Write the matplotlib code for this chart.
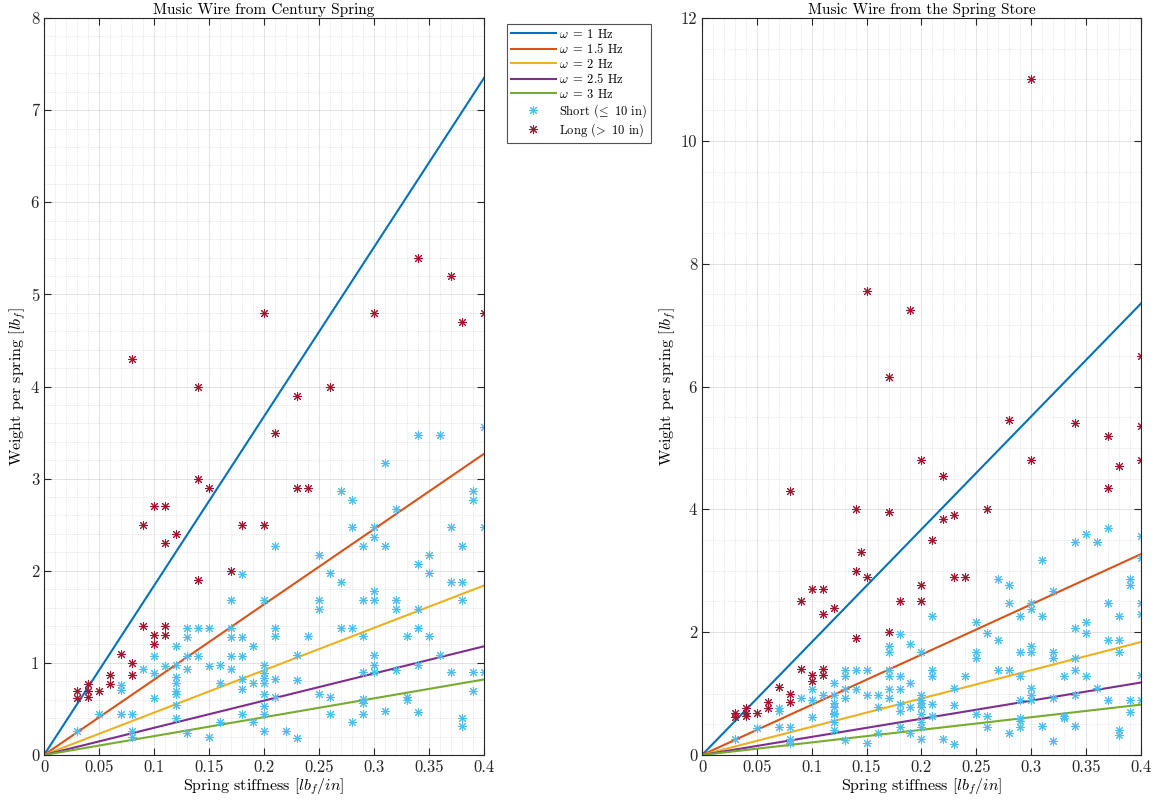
import matplotlib
matplotlib.use('Agg')
import matplotlib.pyplot as plt
from matplotlib.ticker import MultipleLocator, FuncFormatter

plt.rcParams['font.family'] = ['cmr10', 'DejaVu Serif']
plt.rcParams['mathtext.fontset'] = 'cm'
plt.rcParams['axes.formatter.use_mathtext'] = True
plt.rcParams['axes.unicode_minus'] = False

# natural frequency lines, weight at k = 0.4 lbf/in
freqs = [1, 1.5, 2, 2.5, 3]
freq_labels = ['1', '1.5', '2', '2.5', '3']
k_max = 0.4
line_end = [7.35, 3.27, 1.84, 1.18, 0.82]
line_colors = ['#0072BD', '#D95319', '#EDB120', '#7E2F8E', '#77AC30']

# Century Spring: long springs (> 10 in)
century_long_k = [0.03, 0.03, 0.04, 0.04, 0.04, 0.05, 0.06, 0.06, 0.07, 0.08,
                  0.08, 0.08, 0.09, 0.09, 0.1, 0.1, 0.1, 0.11, 0.11, 0.11,
                  0.11, 0.12, 0.14, 0.14, 0.14, 0.15, 0.17, 0.18, 0.2, 0.2,
                  0.21, 0.23, 0.23, 0.24, 0.26, 0.3, 0.34, 0.37, 0.38, 0.4]
century_long_w = [0.62, 0.69, 0.63, 0.69, 0.77, 0.69, 0.77, 0.87, 1.1, 0.87,
                  1.0, 4.3, 1.4, 2.5, 1.2, 1.3, 2.7, 1.3, 1.4, 2.3,
                  2.7, 2.4, 1.9, 3.0, 4.0, 2.9, 2.0, 2.5, 2.5, 4.8,
                  3.5, 2.9, 3.9, 2.9, 4.0, 4.8, 5.4, 5.2, 4.7, 4.8]

# Century Spring: short springs (<= 10 in)
century_short_k = [0.03, 0.05, 0.07, 0.07, 0.07, 0.08, 0.08, 0.08, 0.09,
                   0.1, 0.1, 0.1, 0.11,
                   0.12, 0.12, 0.12, 0.12, 0.12, 0.12, 0.12, 0.12,
                   0.13, 0.13, 0.13, 0.13, 0.13, 0.14, 0.14, 0.15, 0.15, 0.15,
                   0.16, 0.16, 0.16, 0.17, 0.17, 0.17, 0.17, 0.17,
                   0.18, 0.18, 0.18, 0.18, 0.18, 0.18, 0.19, 0.19, 0.19,
                   0.2, 0.2, 0.2, 0.2, 0.2, 0.2, 0.2, 0.2, 0.2,
                   0.21, 0.21, 0.21, 0.21, 0.21, 0.22, 0.23, 0.23, 0.23, 0.24,
                   0.25, 0.25, 0.25, 0.25, 0.26, 0.26, 0.26, 0.27, 0.27, 0.27,
                   0.28, 0.28, 0.28, 0.28,
                   0.29, 0.29, 0.29, 0.29, 0.29, 0.29, 0.29,
                   0.3, 0.3, 0.3, 0.3, 0.3, 0.3, 0.3,
                   0.31, 0.31, 0.31, 0.32, 0.32, 0.32, 0.32, 0.33, 0.33, 0.33,
                   0.34, 0.34, 0.34, 0.34, 0.34, 0.34, 0.35, 0.35, 0.35,
                   0.36, 0.36, 0.37, 0.37, 0.37,
                   0.38, 0.38, 0.38, 0.38, 0.38, 0.39, 0.39, 0.39, 0.39,
                   0.4, 0.4, 0.4]
century_short_w = [0.26, 0.44, 0.76, 0.71, 0.45, 0.45, 0.26, 0.2, 0.93,
                   1.08, 0.89, 0.62, 0.97,
                   1.18, 0.98, 0.85, 0.78, 0.69, 0.66, 0.54, 0.4,
                   1.38, 1.28, 1.08, 0.93, 0.24, 1.38, 1.08, 1.38, 0.97, 0.2,
                   0.98, 0.78, 0.36, 1.68, 1.38, 1.28, 1.08, 0.93,
                   1.97, 1.28, 1.08, 0.83, 0.72, 0.45, 1.18, 0.78, 0.36,
                   1.68, 0.98, 0.89, 0.84, 0.78, 0.66, 0.53, 0.45, 0.26,
                   2.27, 1.38, 1.29, 0.83, 0.63, 0.26, 1.09, 0.81, 0.18, 1.29,
                   2.17, 1.68, 1.58, 0.66, 1.98, 0.63, 0.45, 2.87, 1.88, 1.38,
                   2.77, 2.47, 1.38, 0.36,
                   2.27, 1.68, 1.29, 0.9, 0.61, 0.56, 0.45,
                   2.47, 2.37, 1.78, 1.68, 1.09, 0.98, 0.9,
                   3.17, 2.27, 0.48, 2.67, 1.68, 1.58, 0.92, 1.29, 0.63, 0.6,
                   3.47, 2.07, 1.58, 1.38, 0.98, 0.47, 2.17, 1.98, 1.29,
                   3.47, 1.09, 2.47, 1.88, 0.9,
                   2.27, 1.88, 1.68, 0.4, 0.32, 2.87, 2.77, 0.9, 0.7,
                   3.56, 2.47, 0.9]

# Spring Store has the same springs plus these
store_extra_long_k = [0.3, 0.15, 0.19, 0.17, 0.4, 0.28, 0.4, 0.37, 0.22, 0.22,
                      0.17, 0.145, 0.2]
store_extra_long_w = [11.0, 7.55, 7.25, 6.15, 6.5, 5.45, 5.35, 4.35, 4.55, 3.85,
                      3.95, 3.3, 2.77]
store_extra_short_k = [0.35, 0.37, 0.4, 0.4, 0.4, 0.32, 0.17, 0.19]
store_extra_short_w = [3.6, 3.7, 3.2, 2.3, 1.3, 0.22, 1.78, 1.8]

store_long_k = century_long_k + store_extra_long_k
store_long_w = century_long_w + store_extra_long_w
store_short_k = century_short_k + store_extra_short_k
store_short_w = century_short_w + store_extra_short_w

short_color = '#4DBEEE'
long_color = '#A2142F'
ast = (8, 2, 0)


def draw_panel(ax, short_k, short_w, long_k, long_w, title, ymax, ystep, yminor):
    for f, lab, w_end, c in zip(freqs, freq_labels, line_end, line_colors):
        ax.plot([0, k_max], [0, w_end], color=c, lw=1.5,
                label=r'$\omega\;=\;' + lab + r'$ Hz')
    ax.plot(short_k, short_w, ls='none', marker=ast, ms=6.5, mew=0.75,
            color=short_color, label=r'Short ($\!\leq$ 10 in)')
    ax.plot(long_k, long_w, ls='none', marker=ast, ms=6.5, mew=0.75,
            color=long_color, label=r'Long ($\!>$ 10 in)')
    ax.set_xlim(0, 0.4)
    ax.set_ylim(0, ymax)
    ax.xaxis.set_major_locator(MultipleLocator(0.05))
    ax.xaxis.set_minor_locator(MultipleLocator(0.01))
    ax.yaxis.set_major_locator(MultipleLocator(ystep))
    ax.yaxis.set_minor_locator(MultipleLocator(yminor))
    ax.xaxis.set_major_formatter(FuncFormatter(lambda v, p: '%g' % round(v, 3)))
    ax.yaxis.set_major_formatter(FuncFormatter(lambda v, p: '%g' % v))
    ax.grid(which='major', color='#262626', alpha=0.15, lw=0.6)
    ax.grid(which='minor', color='#262626', alpha=0.2, lw=0.5, ls=':')
    ax.tick_params(which='both', direction='in', top=True, right=True,
                   colors='#262626', labelsize=12, labelcolor='#262626')
    ax.tick_params(which='major', length=5)
    ax.tick_params(which='minor', length=0)
    for s in ax.spines.values():
        s.set_color('#262626')
        s.set_linewidth(0.8)
    ax.set_title(title, fontsize=11, color='#000000', pad=3)
    ax.set_xlabel(r'Spring stiffness $[lb_f/in]$', fontsize=11.5, labelpad=1)
    ax.set_ylabel(r'Weight per spring $[lb_f]$', fontsize=11.5, labelpad=2)


fig = plt.figure(figsize=(11.55, 8), dpi=100)
ax1 = fig.add_axes([0.0381, 0.05625, 0.381, 0.92125])
ax2 = fig.add_axes([0.6078, 0.05625, 0.380, 0.92125])

draw_panel(ax1, century_short_k, century_short_w, century_long_k, century_long_w,
           'Music Wire from Century Spring', 8, 1, 0.2)
draw_panel(ax2, store_short_k, store_short_w, store_long_k, store_long_w,
           'Music Wire from the Spring Store', 12, 2, 0.5)

leg = ax1.legend(loc='upper left', bbox_to_anchor=(1.052, 0.992), fontsize=9,
                 frameon=True, fancybox=False, edgecolor='#262626',
                 borderpad=0.3, labelspacing=0.12, handlelength=3.6,
                 handletextpad=0.3, borderaxespad=0)
leg.get_frame().set_linewidth(0.8)

fig.savefig('out.png', dpi=100, facecolor='white')
